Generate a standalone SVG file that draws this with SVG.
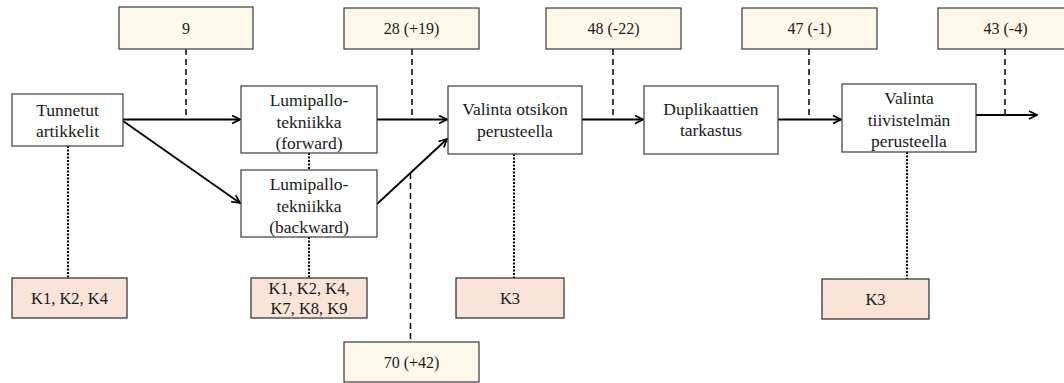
<svg xmlns="http://www.w3.org/2000/svg" width="1064" height="383" viewBox="0 0 1064 383">
<style>
  .proc { fill: #ffffff; stroke: #3a3a3a; stroke-width: 1.2; }
  .num { fill: #fdf8ea; stroke: #3a3a3a; stroke-width: 1.2; }
  .crit { fill: #f9e4d7; stroke: #2a2a2a; stroke-width: 1.2; }
  text { font-family: "Liberation Serif", "DejaVu Serif", serif; font-size: 17.5px; fill: #1a1a1a; text-anchor: middle; dominant-baseline: central; }
  .n { font-size: 16px; }
  .k { font-size: 16.5px; }
  .arrow { stroke: #000; stroke-width: 1.8; fill: none; marker-end: url(#ah); }
  .dash { stroke: #000; stroke-width: 1.5; stroke-dasharray: 6 4; fill: none; }
  .dot { stroke: #000; stroke-width: 2; stroke-dasharray: 2 1.5; fill: none; }
</style>
<defs>
  <marker id="ah" viewBox="0 0 10 10" refX="9" refY="5" markerWidth="10" markerHeight="10" markerUnits="userSpaceOnUse" orient="auto">
    <path d="M1,1 L9,5 L1,9" fill="none" stroke="#000" stroke-width="1.7"/>
  </marker>
</defs>
<rect width="1064" height="383" fill="#ffffff"/>

<g id="connectors">
  <line class="arrow" x1="123" y1="119.5" x2="240" y2="119.5"/>
  <line class="arrow" x1="123" y1="121" x2="240" y2="203"/>
  <line class="arrow" x1="377" y1="119.5" x2="447" y2="119.5"/>
  <line class="arrow" x1="377" y1="204" x2="447" y2="139"/>
  <line class="arrow" x1="582" y1="119.5" x2="643" y2="119.5"/>
  <line class="arrow" x1="778" y1="119.5" x2="841" y2="119.5"/>
  <line class="arrow" x1="976" y1="115" x2="1037" y2="115"/>
  <line class="dash" x1="186" y1="49" x2="186" y2="119"/>
  <line class="dash" x1="412" y1="49" x2="412" y2="119"/>
  <line class="dash" x1="613" y1="49" x2="613" y2="119"/>
  <line class="dash" x1="809" y1="49" x2="809" y2="119"/>
  <line class="dash" x1="1005" y1="49" x2="1005" y2="115"/>
  <line class="dash" x1="410.5" y1="173" x2="410.5" y2="342"/>
  <line class="dot" x1="68" y1="146" x2="68" y2="278"/>
  <line class="dot" x1="309" y1="153" x2="309" y2="170"/>
  <line class="dot" x1="309" y1="237" x2="309" y2="278"/>
  <line class="dot" x1="514" y1="154" x2="514" y2="278"/>
  <line class="dot" x1="907" y1="152" x2="907" y2="279"/>
</g>

<g id="n9"><rect class="num" x="119" y="7" width="134" height="42"/><text class="n" x="186" y="28">9</text></g>
<g id="n28"><rect class="num" x="344" y="8" width="135" height="41"/><text class="n" x="411.5" y="28.5">28 (+19)</text></g>
<g id="n48"><rect class="num" x="546" y="8" width="135" height="41"/><text class="n" x="613.5" y="28.5">48 (-22)</text></g>
<g id="n47"><rect class="num" x="742" y="8" width="135" height="41"/><text class="n" x="809.5" y="28.5">47 (-1)</text></g>
<g id="n43"><rect class="num" x="938" y="8" width="135" height="41"/><text class="n" x="1005.5" y="28.5">43 (-4)</text></g>
<g id="n70"><rect class="num" x="344" y="342" width="135" height="40"/><text class="n" x="411.5" y="362">70 (+42)</text></g>

<g id="tunnetut"><rect class="proc" x="12" y="94" width="111" height="52"/>
  <text x="67.5" y="110">Tunnetut</text><text x="67.5" y="131">artikkelit</text></g>
<g id="forward"><rect class="proc" x="241" y="86" width="136" height="67"/>
  <text x="309" y="100">Lumipallo-</text><text x="309" y="121.5">tekniikka</text><text x="309" y="143">(forward)</text></g>
<g id="backward"><rect class="proc" x="241" y="170" width="136" height="67"/>
  <text x="309" y="184">Lumipallo-</text><text x="309" y="205.5">tekniikka</text><text x="309" y="227">(backward)</text></g>
<g id="otsikon"><rect class="proc" x="448" y="86" width="134" height="68"/>
  <text x="515" y="109">Valinta otsikon</text><text x="515" y="131">perusteella</text></g>
<g id="duplikaatit"><rect class="proc" x="644" y="86" width="134" height="68"/>
  <text x="711" y="109">Duplikaattien</text><text x="711" y="130">tarkastus</text></g>
<g id="tiivistelma"><rect class="proc" x="842" y="84" width="134" height="68"/>
  <text x="909" y="98">Valinta</text><text x="909" y="119.5">tiivistelmän</text><text x="909" y="140.5">perusteella</text></g>

<g id="k1"><rect class="crit" x="12" y="278" width="115" height="40"/><text class="k" x="69.5" y="298">K1, K2, K4</text></g>
<g id="k2"><rect class="crit" x="251" y="278" width="116" height="40"/>
  <text class="k" x="309" y="288.5">K1, K2, K4,</text><text class="k" x="309" y="308">K7, K8, K9</text></g>
<g id="k3a"><rect class="crit" x="456" y="278" width="108" height="40"/><text class="k" x="510" y="298">K3</text></g>
<g id="k3b"><rect class="crit" x="822" y="279" width="107" height="40"/><text class="k" x="875.5" y="299">K3</text></g>
</svg>
